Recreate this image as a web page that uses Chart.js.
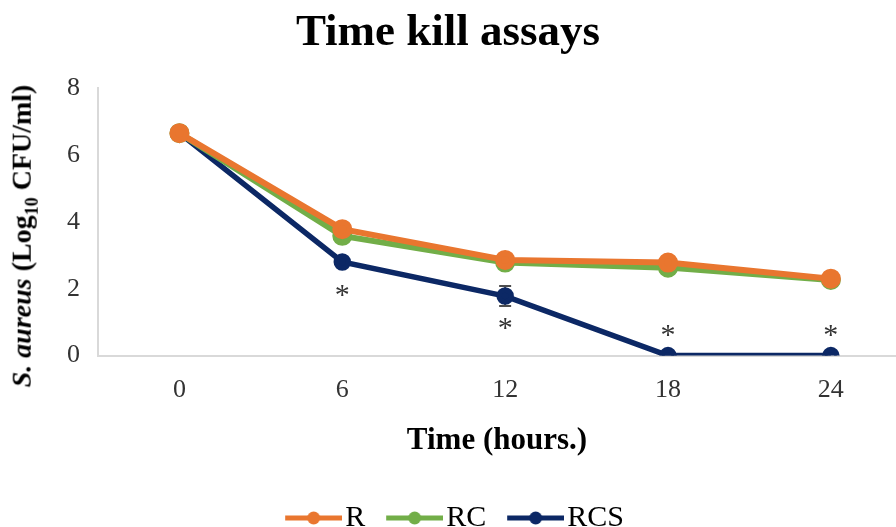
<!DOCTYPE html>
<html>
<head>
<meta charset="utf-8">
<script src="https://cdn.jsdelivr.net/npm/chart.js@4/dist/chart.umd.min.js"></script>
<style>
  html, body { margin: 0; padding: 0; background: #fff; overflow: hidden; }
  #wrap { position: relative; width: 896px; height: 527px; }
  #yTitle {
    position: absolute; left: 24px; top: 236px;
    transform: translate(-50%, -50%) rotate(-90deg);
    white-space: nowrap;
    font: bold 28px "Liberation Serif", "Times New Roman", serif;
    color: #000;
  }
  #yTitle sub { font-size: 18px; }
</style>
</head>
<body>
<div id="wrap">
  <canvas id="chart" width="896" height="527"></canvas>
  <div id="yTitle"><i>S. aureus</i> (Log<sub>10</sub> CFU/ml)</div>
</div>
<script>
const hours = [0, 6, 12, 18, 24];
const seriesR = [6.65, 3.78, 2.86, 2.78, 2.3];
const seriesRC = [6.65, 3.58, 2.78, 2.63, 2.26];
const seriesRCS = [6.65, 2.8, 1.78, 0, 0];
const errRCS = [0.05, 0.1, 0.3, 0, 0];
// asterisk marks (value where the * sits)
const starHours = [6, 12, 18, 24];
const starValues = [1.92, 0.93, 0.72, 0.72];

const orange = '#E9762F';
const green = '#72AE48';
const navy = '#0C2865';

function toPoints(values) {
  return values.map((v, i) => ({ x: hours[i], y: v }));
}

// line + dot legend icon, with transparent space on the left as item gap
function legendIcon(color) {
  const c = document.createElement('canvas');
  c.width = 82;
  c.height = 16;
  const g = c.getContext('2d');
  g.fillStyle = color;
  g.fillRect(25, 5.5, 57, 5);
  g.beginPath();
  g.arc(53.5, 8, 6.5, 0, Math.PI * 2);
  g.fill();
  return c;
}

const extrasPlugin = {
  id: 'extras',
  beforeDatasetsDraw(chart) {
    const { ctx, scales } = chart;
    const x = scales.x;
    const y = scales.y;
    ctx.save();
    ctx.strokeStyle = '#4d4d4d';
    ctx.lineWidth = 2;
    errRCS.forEach((e, i) => {
      if (!e) return;
      const px = x.getPixelForValue(hours[i]);
      const top = y.getPixelForValue(seriesRCS[i] + e);
      const bot = y.getPixelForValue(seriesRCS[i] - e);
      ctx.beginPath();
      ctx.moveTo(px, top); ctx.lineTo(px, bot);
      ctx.moveTo(px - 6, top); ctx.lineTo(px + 6, top);
      ctx.moveTo(px - 6, bot); ctx.lineTo(px + 6, bot);
      ctx.stroke();
    });
    ctx.restore();
  },
  afterDatasetsDraw(chart) {
    const { ctx, scales } = chart;
    const x = scales.x;
    const y = scales.y;
    ctx.save();
    ctx.fillStyle = '#333';
    ctx.font = '30px "Liberation Serif", serif';
    ctx.textAlign = 'center';
    ctx.textBaseline = 'middle';
    starHours.forEach((h, i) => {
      ctx.fillText('*', x.getPixelForValue(h), y.getPixelForValue(starValues[i]) + 5);
    });
    ctx.restore();
  }
};

const serif = '"Liberation Serif", "Times New Roman", serif';

new Chart(document.getElementById('chart'), {
  type: 'line',
  data: {
    datasets: [
      { label: 'R', data: toPoints(seriesR), borderColor: orange, backgroundColor: orange,
        borderWidth: 6, pointRadius: 7, pointHoverRadius: 7, legendColor: orange },
      { label: 'RC', data: toPoints(seriesRC), borderColor: green, backgroundColor: green,
        borderWidth: 6, pointRadius: 7, pointHoverRadius: 7, legendColor: green },
      { label: 'RCS', data: toPoints(seriesRCS), borderColor: navy, backgroundColor: navy,
        borderWidth: 5.5, pointRadius: 6, pointHoverRadius: 6, legendColor: navy }
    ]
  },
  options: {
    responsive: false,
    animation: false,
    layout: { autoPadding: false, padding: { left: 0, right: 0, top: 0, bottom: -16 } },
    plugins: {
      title: {
        display: true,
        text: 'Time kill assays',
        color: '#000',
        font: { family: serif, size: 45, weight: 'bold' },
        padding: { top: 6, bottom: 28 }
      },
      legend: {
        position: 'bottom',
        labels: {
          usePointStyle: true,
          pointStyleWidth: 58,
          color: '#000',
          padding: 8,
          font: { family: serif, size: 30 },
          generateLabels(chart) {
            return chart.data.datasets.map((ds, i) => ({
              text: ds.label,
              pointStyle: legendIcon(ds.legendColor),
              fillStyle: ds.legendColor,
              strokeStyle: ds.legendColor,
              lineWidth: 0,
              hidden: false,
              datasetIndex: i
            }));
          }
        }
      },
      tooltip: { enabled: false }
    },
    scales: {
      x: {
        type: 'linear',
        min: -3,
        max: 26.4,
        afterBuildTicks(scale) {
          scale.ticks = hours.map(v => ({ value: v }));
        },
        afterFit(scale) {
          scale.paddingLeft = 0;
          scale.paddingRight = 0;
        },
        grid: { display: false },
        border: { display: true, color: '#d9d9d9', width: 2 },
        ticks: { color: '#333', padding: 11, font: { family: serif, size: 26 } },
        title: {
          display: true,
          text: 'Time (hours.)',
          color: '#000',
          font: { family: serif, size: 31, weight: 'bold' },
          padding: { top: 6, bottom: 35 }
        }
      },
      y: {
        min: 0,
        max: 8,
        afterFit(scale) { scale.width = 98; },
        ticks: { stepSize: 2, color: '#333', padding: 18, font: { family: serif, size: 26 } },
        grid: { display: false, drawTicks: false },
        border: { display: true, color: '#d9d9d9', width: 2 }
      }
    }
  },
  plugins: [extrasPlugin]
});
</script>
</body>
</html>
